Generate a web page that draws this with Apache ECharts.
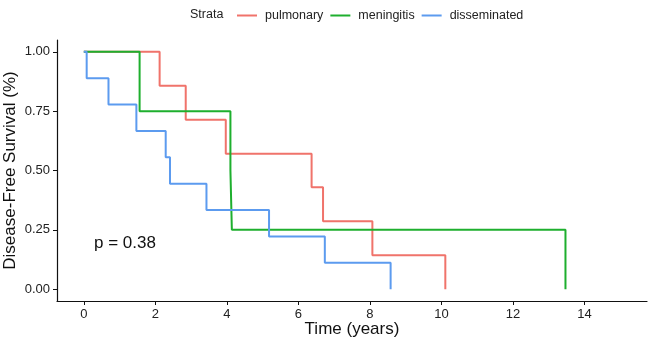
<!DOCTYPE html>
<html>
<head>
<meta charset="utf-8">
<script src="https://cdn.jsdelivr.net/npm/echarts@6/dist/echarts.min.js"></script>
<style>
	html, body { margin: 0; padding: 0; background: #fff; }
	#main { width: 649px; height: 346px; }
</style>
</head>
<body>
<div id="main"></div>
<script>
// 生存曲线数据 (Kaplan-Meier)
var pulmonaryTime = [0, 2.12, 2.85, 3.97, 6.37, 6.69, 8.07, 10.11];
var pulmonarySurv = [1, 0.857, 0.714, 0.571, 0.429, 0.286, 0.143, 0];
var meningitisTime = [0, 1.56, 4.10, 4.14, 13.47];
var meningitisSurv = [1, 0.75, 0.5, 0.25, 0];
var disseminatedTime = [0, 0.08, 0.69, 1.47, 2.29, 2.41, 3.43, 5.18, 6.74, 8.58];
var disseminatedSurv = [1, 0.889, 0.778, 0.667, 0.556, 0.444, 0.333, 0.222, 0.111, 0];

var strataNames = ['pulmonary', 'meningitis', 'disseminated'];
var strataColors = ['#F0736B', '#1EAF2E', '#5C9BEF'];
var xTicks = [0, 2, 4, 6, 8, 10, 12, 14];
var yTicks = [0, 0.25, 0.5, 0.75, 1];

var font = 'Liberation Sans, Arial, sans-serif';

function pairs(t, s) {
	var out = [];
	for (var i = 0; i < t.length; i++) {
		out.push([t[i], s[i]]);
	}
	return out;
}

var allData = [
	pairs(pulmonaryTime, pulmonarySurv),
	pairs(meningitisTime, meningitisSurv),
	pairs(disseminatedTime, disseminatedSurv)
];

var series = [];
for (var k = 0; k < strataNames.length; k++) {
	series.push({
		name: strataNames[k],
		type: 'line',
		step: 'end',
		showSymbol: false,
		symbol: 'none',
		data: allData[k],
		lineStyle: { width: 2, color: strataColors[k] },
		itemStyle: { color: strataColors[k] },
		animation: false
	});
}

var myChart = echarts.init(document.getElementById('main'), null, { renderer: 'canvas' });
var option = {
	animation: false,
	color: strataColors,
	grid: { left: 57, top: 40, width: 590, height: 261, containLabel: false, outerBoundsMode: 'none' },
	legend: {
		data: strataNames,
		left: 232,
		top: 4,
		icon: 'rect',
		itemWidth: 20,
		itemHeight: 2,
		itemGap: 7,
		textStyle: { fontFamily: font, fontSize: 12.5, color: '#222', padding: [0, 0, 0, 3] }
	},
	graphic: [
		{
			type: 'text', left: 190, top: 8,
			style: { text: 'Strata', font: '12.5px ' + font, fill: '#222' }
		},
		{
			type: 'text', left: 94, top: 235,
			style: { text: 'p = 0.38', font: '17px ' + font, fill: '#111' }
		}
	],
	xAxis: {
		type: 'value',
		min: -0.75,
		max: 15.75,
		name: 'Time (years)',
		nameLocation: 'middle',
		nameGap: 20,
		nameMoveOverlap: false,
		nameTextStyle: { fontFamily: font, fontSize: 17, color: '#111', verticalAlign: 'top' },
		axisLine: { show: true, onZero: false, lineStyle: { color: '#111', width: 1.2 } },
		axisTick: { show: true, length: 4, customValues: xTicks, lineStyle: { color: '#111' } },
		axisLabel: { customValues: xTicks, margin: 7, fontFamily: font, fontSize: 13, color: '#222' },
		splitLine: { show: false }
	},
	yAxis: {
		type: 'value',
		min: -0.05,
		max: 1.05,
		name: 'Disease-Free Survival (%)',
		nameLocation: 'middle',
		nameGap: 38,
		nameMoveOverlap: false,
		nameTextStyle: { fontFamily: font, fontSize: 17, color: '#111', verticalAlign: 'bottom' },
		axisLine: { show: true, onZero: false, lineStyle: { color: '#111', width: 1.2 } },
		axisTick: { show: true, length: 4, customValues: yTicks, lineStyle: { color: '#111' } },
		axisLabel: {
			customValues: yTicks, margin: 7, fontFamily: font, fontSize: 13, color: '#222',
			formatter: function (v) { return v.toFixed(2); }
		},
		splitLine: { show: false }
	},
	series: series
};
myChart.setOption(option);
</script>
</body>
</html>
